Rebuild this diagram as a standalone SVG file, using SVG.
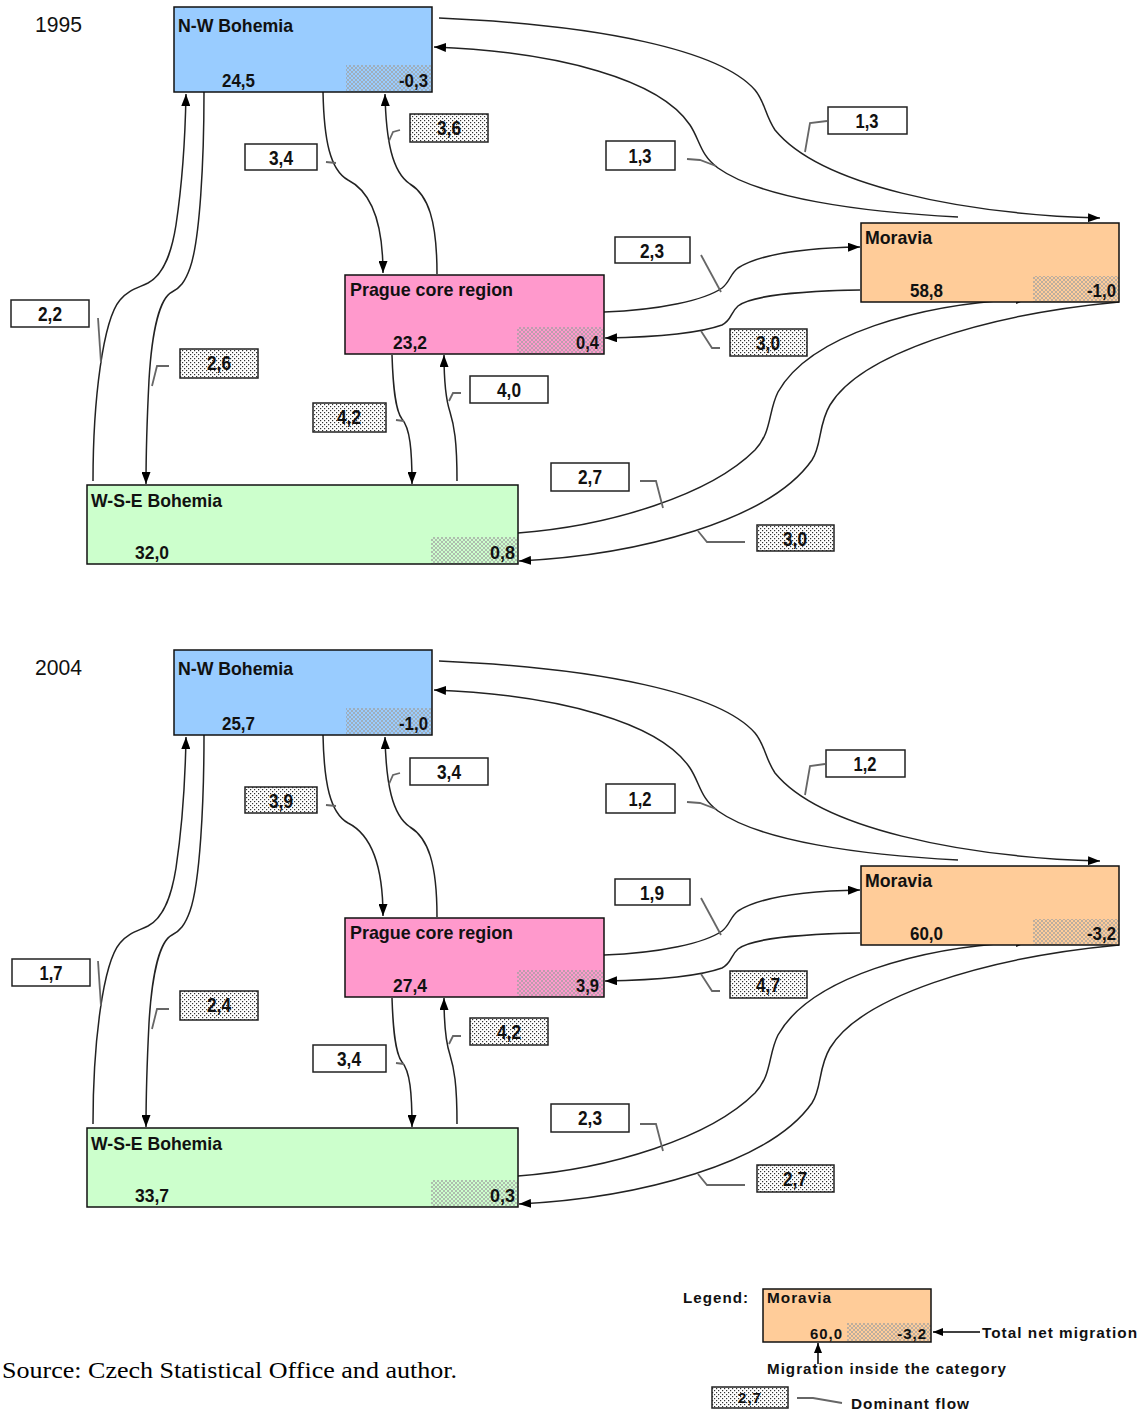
<svg xmlns="http://www.w3.org/2000/svg" width="1147" height="1413" viewBox="0 0 1147 1413">
<style>
.nb{fill:none;stroke:#111;stroke-width:1.5}
.nn{font-family:"Liberation Sans Narrow","Liberation Sans",Arial,sans-serif;font-weight:bold;font-size:19px;fill:#111}
.nv{font-family:"Liberation Sans Narrow","Liberation Sans",Arial,sans-serif;font-weight:bold;font-size:19px;fill:#111}
.bx{stroke:#222;stroke-width:1.5}
.bw{fill:#fff}
.bd{fill:url(#dots)}
.lt{font-family:"Liberation Sans Narrow","Liberation Sans",Arial,sans-serif;font-weight:bold;font-size:20px;fill:#111;text-anchor:middle}
.cn{fill:none;stroke:#222;stroke-width:1.5}
.ar{marker-end:url(#ah)}
.ld{fill:none;stroke:#666;stroke-width:1.8}
.yr{font-family:"Liberation Sans Narrow","Liberation Sans",Arial,sans-serif;font-size:22px;fill:#111}
.lg{font-family:"Liberation Sans",Arial,sans-serif;font-weight:bold;font-size:15px;fill:#111;letter-spacing:1px}
</style>
<defs>
<pattern id="xh" width="4" height="4" patternUnits="userSpaceOnUse">
<path d="M0,0 L4,4 M4,0 L0,4" stroke="#a0a0a0" stroke-width="0.7"/>
</pattern>
<pattern id="dots" width="4" height="4" patternUnits="userSpaceOnUse">
<rect width="4" height="4" fill="#fff"/>
<rect x="0" y="0" width="1.2" height="1.2" fill="#333"/>
<rect x="2" y="2" width="1.2" height="1.2" fill="#333"/>
</pattern>
<marker id="ah" viewBox="0 0 12 9" refX="12" refY="4.5" markerWidth="12" markerHeight="9" markerUnits="userSpaceOnUse" orient="auto">
<path d="M0,0 L12,4.5 L0,9 z" fill="#000"/>
</marker>
<marker id="ahs" viewBox="0 0 10 8" refX="10" refY="4" markerWidth="10" markerHeight="8" markerUnits="userSpaceOnUse" orient="auto">
<path d="M0,0 L10,4 L0,8 z" fill="#000"/>
</marker>
</defs>
<rect width="1147" height="1413" fill="#fff"/>

<!-- ===== 1995 ===== -->
<g id="panel-1995">
<text class="yr" x="35" y="32" textLength="47" lengthAdjust="spacingAndGlyphs">1995</text>
<g id="connectors-1995">
<path class="cn ar" d="M439,18 C600,25 720,50 755,90 C765,102 765,115 775,130 C820,185 960,214 1100,218"/>
<path class="cn ar" d="M958,217 C860,212 760,198 718,168 C700,155 700,140 690,125 C660,80 560,52 434,47"/>
<path class="cn ar" d="M323,92 C324,140 330,170 348,180 C372,192 383,225 383,273"/>
<path class="cn ar" d="M437,274 C437,220 428,195 410,184 C392,172 386,140 385,94"/>
<path class="cn ar" d="M604,312 C660,310 705,300 722,288 C730,282 730,274 738,268 C760,254 800,248 860,247"/>
<path class="cn ar" d="M860,290 C800,291 750,296 738,306 C730,313 732,320 722,325 C700,333 660,337 605,338"/>
<path class="cn ar" d="M518,533 C610,526 710,495 755,450 C772,432 768,412 778,392 C810,335 920,303 1028,299"/>
<path class="cn ar" d="M1119,302 C980,315 860,355 830,405 C818,425 822,445 812,460 C770,520 640,555 519,561"/>
<path class="cn ar" d="M204,92 C204,160 200,240 190,268 C185,282 180,288 172,292 C160,298 152,330 149,380 C147,420 146,450 146,484"/>
<path class="cn ar" d="M93,481 C93,400 103,320 120,300 C128,290 138,288 148,283 C165,274 172,250 176,225 C182,185 185,150 186,94"/>
<path class="cn ar" d="M392,355 C393,385 395,410 402,419 C410,428 412,450 412,484"/>
<path class="cn ar" d="M457,481 C457,440 454,425 450,412 C446,400 444,380 444,355"/>
<path class="ld" d="M827,121 L810,123 L805,152"/>
<path class="ld" d="M687,159 L700,160 L716,166"/>
<path class="ld" d="M400,130 L393,132 L389,141"/>
<path class="ld" d="M326,162 L336,163"/>
<path class="ld" d="M701,255 L721,292"/>
<path class="ld" d="M720,348 L712,348 L701,331"/>
<path class="ld" d="M98,318 L101,363"/>
<path class="ld" d="M169,366 L157,366 L152,386"/>
<path class="ld" d="M396,420 L404,421"/>
<path class="ld" d="M461,393 L453,393 L449,401"/>
<path class="ld" d="M640,481 L656,481 L663,508"/>
<path class="ld" d="M745,542 L707,542 L698,531"/>
</g>
<g id="nw-1995">
<rect x="174" y="7" width="258" height="85" fill="#99CCFF"/>
<rect x="346" y="65" width="86" height="27" fill="url(#xh)"/>
<rect x="174" y="7" width="258" height="85" class="nb"/>
<text class="nn" x="178" y="32" textLength="115" lengthAdjust="spacingAndGlyphs">N-W Bohemia</text>
<text class="nv" x="222" y="87" textLength="33" lengthAdjust="spacingAndGlyphs">24,5</text>
<text class="nv" x="428" y="87" text-anchor="end" textLength="29" lengthAdjust="spacingAndGlyphs">-0,3</text>
</g>
<g id="prague-1995">
<rect x="345" y="275" width="259" height="79" fill="#FF99CC"/>
<rect x="517" y="327" width="87" height="27" fill="url(#xh)"/>
<rect x="345" y="275" width="259" height="79" class="nb"/>
<text class="nn" x="350" y="296" textLength="163" lengthAdjust="spacingAndGlyphs">Prague core region</text>
<text class="nv" x="393" y="349" textLength="34" lengthAdjust="spacingAndGlyphs">23,2</text>
<text class="nv" x="599" y="349" text-anchor="end" textLength="23" lengthAdjust="spacingAndGlyphs">0,4</text>
</g>
<g id="moravia-1995">
<rect x="861" y="223" width="258" height="79" fill="#FFCC99"/>
<rect x="1033" y="276" width="86" height="26" fill="url(#xh)"/>
<rect x="861" y="223" width="258" height="79" class="nb"/>
<text class="nn" x="865" y="244" textLength="67" lengthAdjust="spacingAndGlyphs">Moravia</text>
<text class="nv" x="910" y="297" textLength="33" lengthAdjust="spacingAndGlyphs">58,8</text>
<text class="nv" x="1116" y="297" text-anchor="end" textLength="29" lengthAdjust="spacingAndGlyphs">-1,0</text>
</g>
<g id="wse-1995">
<rect x="87" y="485" width="431" height="79" fill="#CCFFCC"/>
<rect x="431" y="537" width="87" height="27" fill="url(#xh)"/>
<rect x="87" y="485" width="431" height="79" class="nb"/>
<text class="nn" x="91" y="507" textLength="131" lengthAdjust="spacingAndGlyphs">W-S-E Bohemia</text>
<text class="nv" x="135" y="559" textLength="34" lengthAdjust="spacingAndGlyphs">32,0</text>
<text class="nv" x="515" y="559" text-anchor="end" textLength="25" lengthAdjust="spacingAndGlyphs">0,8</text>
</g>
<g id="labels-1995">
<rect class="bx bw" x="828" y="107" width="79" height="27"/><text class="lt" x="867" y="128" textLength="23" lengthAdjust="spacingAndGlyphs">1,3</text>
<rect class="bx bw" x="606" y="141" width="69" height="29"/><text class="lt" x="640" y="163" textLength="23" lengthAdjust="spacingAndGlyphs">1,3</text>
<rect class="bx bd" x="410" y="114" width="78" height="28"/><text class="lt" x="449" y="135" textLength="24" lengthAdjust="spacingAndGlyphs">3,6</text>
<rect class="bx bw" x="245" y="144" width="72" height="26"/><text class="lt" x="281" y="165" textLength="24" lengthAdjust="spacingAndGlyphs">3,4</text>
<rect class="bx bw" x="615" y="237" width="75" height="26"/><text class="lt" x="652" y="258" textLength="24" lengthAdjust="spacingAndGlyphs">2,3</text>
<rect class="bx bd" x="730" y="329" width="77" height="27"/><text class="lt" x="768" y="350" textLength="24" lengthAdjust="spacingAndGlyphs">3,0</text>
<rect class="bx bw" x="11" y="300" width="78" height="27"/><text class="lt" x="50" y="321" textLength="24" lengthAdjust="spacingAndGlyphs">2,2</text>
<rect class="bx bd" x="180" y="349" width="78" height="29"/><text class="lt" x="219" y="370" textLength="24" lengthAdjust="spacingAndGlyphs">2,6</text>
<rect class="bx bd" x="313" y="403" width="73" height="29"/><text class="lt" x="349" y="424" textLength="24" lengthAdjust="spacingAndGlyphs">4,2</text>
<rect class="bx bw" x="470" y="376" width="78" height="27"/><text class="lt" x="509" y="397" textLength="24" lengthAdjust="spacingAndGlyphs">4,0</text>
<rect class="bx bw" x="551" y="463" width="78" height="28"/><text class="lt" x="590" y="484" textLength="24" lengthAdjust="spacingAndGlyphs">2,7</text>
<rect class="bx bd" x="757" y="525" width="77" height="26"/><text class="lt" x="795" y="546" textLength="24" lengthAdjust="spacingAndGlyphs">3,0</text>
</g>
</g>

<!-- ===== 2004 ===== -->
<g id="panel-2004" transform="translate(0,643)">
<text class="yr" x="35" y="32" textLength="47" lengthAdjust="spacingAndGlyphs">2004</text>
<g id="connectors-2004">
<path class="cn ar" d="M439,18 C600,25 720,50 755,90 C765,102 765,115 775,130 C820,185 960,214 1100,218"/>
<path class="cn ar" d="M958,217 C860,212 760,198 718,168 C700,155 700,140 690,125 C660,80 560,52 434,47"/>
<path class="cn ar" d="M323,92 C324,140 330,170 348,180 C372,192 383,225 383,273"/>
<path class="cn ar" d="M437,274 C437,220 428,195 410,184 C392,172 386,140 385,94"/>
<path class="cn ar" d="M604,312 C660,310 705,300 722,288 C730,282 730,274 738,268 C760,254 800,248 860,247"/>
<path class="cn ar" d="M860,290 C800,291 750,296 738,306 C730,313 732,320 722,325 C700,333 660,337 605,338"/>
<path class="cn ar" d="M518,533 C610,526 710,495 755,450 C772,432 768,412 778,392 C810,335 920,303 1028,299"/>
<path class="cn ar" d="M1119,302 C980,315 860,355 830,405 C818,425 822,445 812,460 C770,520 640,555 519,561"/>
<path class="cn ar" d="M204,92 C204,160 200,240 190,268 C185,282 180,288 172,292 C160,298 152,330 149,380 C147,420 146,450 146,484"/>
<path class="cn ar" d="M93,481 C93,400 103,320 120,300 C128,290 138,288 148,283 C165,274 172,250 176,225 C182,185 185,150 186,94"/>
<path class="cn ar" d="M392,355 C393,385 395,410 402,419 C410,428 412,450 412,484"/>
<path class="cn ar" d="M457,481 C457,440 454,425 450,412 C446,400 444,380 444,355"/>
<path class="ld" d="M825,121 L810,123 L805,152"/>
<path class="ld" d="M687,159 L700,160 L716,166"/>
<path class="ld" d="M400,130 L393,132 L389,141"/>
<path class="ld" d="M326,162 L336,163"/>
<path class="ld" d="M701,255 L721,292"/>
<path class="ld" d="M720,348 L712,348 L701,331"/>
<path class="ld" d="M98,318 L101,363"/>
<path class="ld" d="M169,366 L157,366 L152,386"/>
<path class="ld" d="M396,420 L404,421"/>
<path class="ld" d="M461,393 L453,393 L449,401"/>
<path class="ld" d="M640,481 L656,481 L663,508"/>
<path class="ld" d="M745,542 L707,542 L698,531"/>
</g>
<g id="nw-2004">
<rect x="174" y="7" width="258" height="85" fill="#99CCFF"/>
<rect x="346" y="65" width="86" height="27" fill="url(#xh)"/>
<rect x="174" y="7" width="258" height="85" class="nb"/>
<text class="nn" x="178" y="32" textLength="115" lengthAdjust="spacingAndGlyphs">N-W Bohemia</text>
<text class="nv" x="222" y="87" textLength="33" lengthAdjust="spacingAndGlyphs">25,7</text>
<text class="nv" x="428" y="87" text-anchor="end" textLength="29" lengthAdjust="spacingAndGlyphs">-1,0</text>
</g>
<g id="prague-2004">
<rect x="345" y="275" width="259" height="79" fill="#FF99CC"/>
<rect x="517" y="327" width="87" height="27" fill="url(#xh)"/>
<rect x="345" y="275" width="259" height="79" class="nb"/>
<text class="nn" x="350" y="296" textLength="163" lengthAdjust="spacingAndGlyphs">Prague core region</text>
<text class="nv" x="393" y="349" textLength="34" lengthAdjust="spacingAndGlyphs">27,4</text>
<text class="nv" x="599" y="349" text-anchor="end" textLength="23" lengthAdjust="spacingAndGlyphs">3,9</text>
</g>
<g id="moravia-2004">
<rect x="861" y="223" width="258" height="79" fill="#FFCC99"/>
<rect x="1033" y="276" width="86" height="26" fill="url(#xh)"/>
<rect x="861" y="223" width="258" height="79" class="nb"/>
<text class="nn" x="865" y="244" textLength="67" lengthAdjust="spacingAndGlyphs">Moravia</text>
<text class="nv" x="910" y="297" textLength="33" lengthAdjust="spacingAndGlyphs">60,0</text>
<text class="nv" x="1116" y="297" text-anchor="end" textLength="29" lengthAdjust="spacingAndGlyphs">-3,2</text>
</g>
<g id="wse-2004">
<rect x="87" y="485" width="431" height="79" fill="#CCFFCC"/>
<rect x="431" y="537" width="87" height="27" fill="url(#xh)"/>
<rect x="87" y="485" width="431" height="79" class="nb"/>
<text class="nn" x="91" y="507" textLength="131" lengthAdjust="spacingAndGlyphs">W-S-E Bohemia</text>
<text class="nv" x="135" y="559" textLength="34" lengthAdjust="spacingAndGlyphs">33,7</text>
<text class="nv" x="515" y="559" text-anchor="end" textLength="25" lengthAdjust="spacingAndGlyphs">0,3</text>
</g>
<g id="labels-2004">
<rect class="bx bw" x="826" y="107" width="79" height="27"/><text class="lt" x="865" y="128" textLength="23" lengthAdjust="spacingAndGlyphs">1,2</text>
<rect class="bx bw" x="606" y="141" width="69" height="29"/><text class="lt" x="640" y="163" textLength="23" lengthAdjust="spacingAndGlyphs">1,2</text>
<rect class="bx bw" x="410" y="115" width="78" height="27"/><text class="lt" x="449" y="136" textLength="24" lengthAdjust="spacingAndGlyphs">3,4</text>
<rect class="bx bd" x="245" y="144" width="72" height="26"/><text class="lt" x="281" y="165" textLength="24" lengthAdjust="spacingAndGlyphs">3,9</text>
<rect class="bx bw" x="615" y="236" width="75" height="26"/><text class="lt" x="652" y="257" textLength="24" lengthAdjust="spacingAndGlyphs">1,9</text>
<rect class="bx bd" x="730" y="328" width="77" height="27"/><text class="lt" x="768" y="349" textLength="24" lengthAdjust="spacingAndGlyphs">4,7</text>
<rect class="bx bw" x="12" y="316" width="78" height="27"/><text class="lt" x="51" y="337" textLength="23" lengthAdjust="spacingAndGlyphs">1,7</text>
<rect class="bx bd" x="180" y="348" width="78" height="29"/><text class="lt" x="219" y="369" textLength="24" lengthAdjust="spacingAndGlyphs">2,4</text>
<rect class="bx bw" x="313" y="402" width="73" height="27"/><text class="lt" x="349" y="423" textLength="24" lengthAdjust="spacingAndGlyphs">3,4</text>
<rect class="bx bd" x="470" y="375" width="78" height="27"/><text class="lt" x="509" y="396" textLength="24" lengthAdjust="spacingAndGlyphs">4,2</text>
<rect class="bx bw" x="551" y="461" width="78" height="28"/><text class="lt" x="590" y="482" textLength="24" lengthAdjust="spacingAndGlyphs">2,3</text>
<rect class="bx bd" x="757" y="522" width="77" height="27"/><text class="lt" x="795" y="543" textLength="24" lengthAdjust="spacingAndGlyphs">2,7</text>
</g>
</g>

<!-- ===== Legend ===== -->
<g id="legend">
<text class="lg" x="683" y="1303" textLength="66" lengthAdjust="spacingAndGlyphs">Legend:</text>
<g id="legend-node">
<rect x="763" y="1289" width="168" height="53" fill="#FFCC99"/>
<rect x="847" y="1323" width="84" height="19" fill="url(#xh)"/>
<rect x="763" y="1289" width="168" height="53" class="nb"/>
<text class="lg" x="767" y="1303" textLength="65" lengthAdjust="spacingAndGlyphs">Moravia</text>
<text class="lg" x="810" y="1339" textLength="33" lengthAdjust="spacingAndGlyphs">60,0</text>
<text class="lg" x="927" y="1339" text-anchor="end" letter-spacing="0">-3,2</text>
</g>
<g id="legend-connectors">
<line x1="980" y1="1332" x2="933" y2="1332" stroke="#000" stroke-width="1.5" marker-end="url(#ahs)"/>
<line x1="818" y1="1364" x2="818" y2="1343" stroke="#000" stroke-width="1.5" marker-end="url(#ahs)"/>
<path class="ld" d="M797,1398 L813,1398 L842,1403"/>
</g>
<text class="lg" x="982" y="1338" textLength="156" lengthAdjust="spacingAndGlyphs">Total net migration</text>
<text class="lg" x="767" y="1374" textLength="240" lengthAdjust="spacingAndGlyphs">Migration inside the category</text>
<rect class="bx bd" x="712" y="1387" width="76" height="21"/>
<text class="lg" x="750" y="1403" text-anchor="middle" letter-spacing="0">2,7</text>
<text class="lg" x="851" y="1409" textLength="119" lengthAdjust="spacingAndGlyphs">Dominant flow</text>
</g>

<text x="2" y="1378" font-family="'Liberation Serif','Times New Roman',serif" font-size="24" fill="#000" textLength="455" lengthAdjust="spacingAndGlyphs">Source: Czech Statistical Office and author.</text>
</svg>
